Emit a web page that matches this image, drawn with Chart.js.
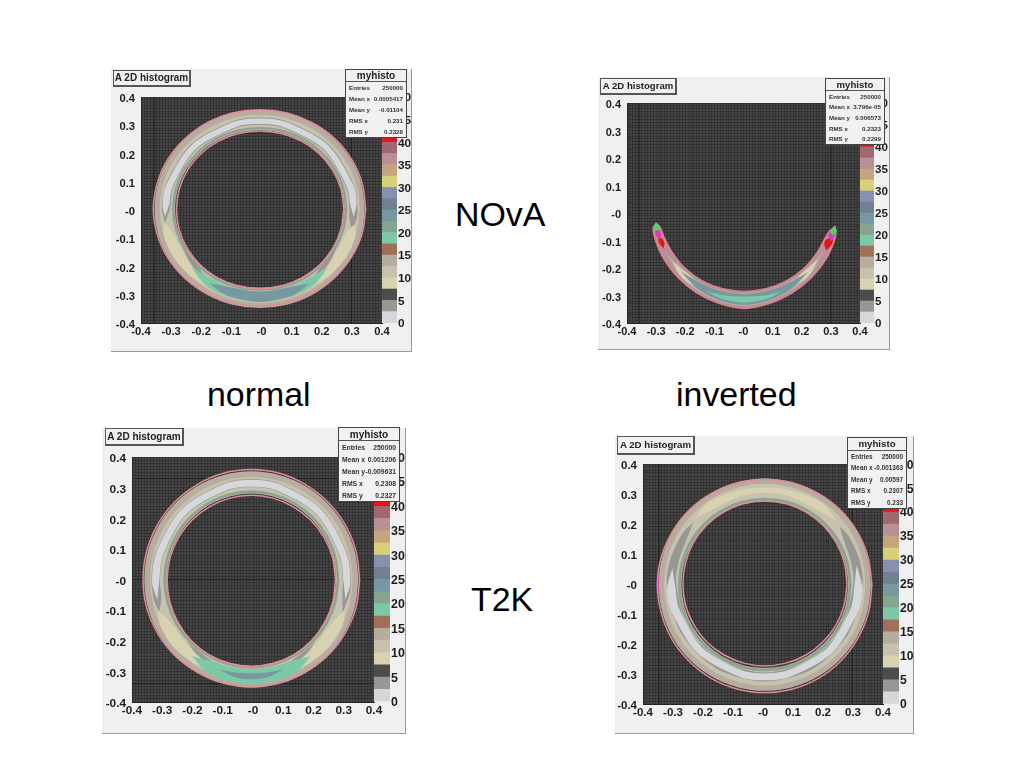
<!DOCTYPE html>
<html>
<head>
<meta charset="utf-8">
<title>A 2D histogram</title>
<script src="https://cdn.jsdelivr.net/npm/chart.js@4/dist/chart.umd.min.js"></script>
<style>
body { margin: 0; background: #fff; font-family: "Liberation Sans", Arial, sans-serif; width: 1024px; height: 768px; overflow: hidden; position: relative; }
.pad { position: absolute; background: #f0f0f0; border-right: 1px solid #9a9a9a; border-bottom: 1px solid #9a9a9a; box-sizing: border-box; }
canvas { position: absolute; filter: blur(0.5px); }
.titlebox { position: absolute; box-sizing: border-box; background: #f1f1f1; border: 1px solid #555; border-right-width: 2px; border-bottom-width: 2px; font-weight: bold; color: #222; text-align: center; white-space: nowrap; filter: blur(0.3px); z-index: 5; }
.stats { position: absolute; box-sizing: border-box; background: #f1f1f1; border: 1px solid #444; display: flex; flex-direction: column; color: #333; font-weight: bold; filter: blur(0.35px); z-index: 5; }
.stats div { flex: 1; display: flex; justify-content: space-between; align-items: center; padding: 0 3px; white-space: nowrap; }
.stats .head { justify-content: center; color: #222; border-bottom: 1px solid #555; }
.word { position: absolute; font-size: 33.9px; color: #000; white-space: nowrap; line-height: 40px; }
</style>
</head>
<body>
<script>
//TEXT
const captions = ["NOvA", "normal", "inverted", "T2K"];
const histoTitle = "A 2D histogram";
const statsName = "myhisto";
const statsLabels = ["Entries", "Mean x", "Mean y", "RMS x", "RMS y"];
const novaNormalStats = ["250000", "0.0005417", "-0.01104", "0.231", "0.2328"];
const novaInvertedStats = ["250000", "3.796e-05", "0.006573", "0.2323", "0.2299"];
const t2kNormalStats = ["250000", "0.001206", "-0.009631", "0.2308", "0.2327"];
const t2kInvertedStats = ["250000", "-0.001363", "0.00597", "0.2307", "0.233"];

//AXES
const axisLabels = ["-0.4", "-0.3", "-0.2", "-0.1", "-0", "0.1", "0.2", "0.3", "0.4"];
const paletteTicks = [0, 5, 10, 15, 20, 25, 30, 35, 40, 45, 50];

//PALETTE (lower edge of every colour band, 2.5 wide)
const paletteLevels = [0, 2.5, 5, 7.5, 10, 12.5, 15, 17.5, 20, 22.5, 25, 27.5, 30, 32.5, 35, 37.5, 40, 42.5, 45, 47.5];
const paletteColors = ["#d6d7da", "#979894", "#4c4c4c", "#d8d2b0", "#c6c2ae", "#b6ada0", "#a0705a", "#7cc9a8", "#86a58f", "#7898a0", "#6f8193", "#8890b0", "#d8d078", "#c8a47c", "#b89098", "#a0686f", "#e8141c", "#d83cc0", "#d83cc0", "#3ce060"];
const edgeColor = "#e48a97";

//RING OUTLINES: radius every 15 degrees from the ring centre
const ringAngles = [0, 15, 30, 45, 60, 75, 90, 105, 120, 135, 150, 165, 180, 195, 210, 225, 240, 255, 270, 285, 300, 315, 330, 345, 360];

const novaNormalCentre = [-0.006, 0.004];
const novaNormalOuter = [0.352, 0.352, 0.352, 0.352, 0.351, 0.351, 0.351, 0.351, 0.351, 0.351, 0.352, 0.352, 0.353, 0.352, 0.351, 0.349, 0.347, 0.345, 0.344, 0.344, 0.345, 0.347, 0.349, 0.351, 0.352];
const novaNormalInner = [0.279, 0.279, 0.278, 0.278, 0.277, 0.276, 0.276, 0.276, 0.276, 0.276, 0.276, 0.276, 0.276, 0.277, 0.278, 0.280, 0.282, 0.283, 0.284, 0.283, 0.282, 0.281, 0.280, 0.279, 0.279];
const t2kNormalCentre = [-0.0055, 0];
const t2kNormalOuter = [0.358, 0.358, 0.358, 0.358, 0.358, 0.359, 0.359, 0.359, 0.358, 0.358, 0.358, 0.358, 0.358, 0.358, 0.356, 0.354, 0.351, 0.349, 0.347, 0.349, 0.351, 0.354, 0.356, 0.358, 0.358];
const t2kNormalInner = [0.278, 0.278, 0.277, 0.276, 0.275, 0.275, 0.275, 0.275, 0.275, 0.276, 0.277, 0.278, 0.278, 0.279, 0.280, 0.282, 0.284, 0.285, 0.286, 0.285, 0.284, 0.282, 0.280, 0.279, 0.278];
const t2kInvertedCentre = [0.006, -0.002];
const t2kInvertedOuter = [0.357, 0.356, 0.355, 0.354, 0.352, 0.351, 0.351, 0.351, 0.352, 0.354, 0.355, 0.357, 0.358, 0.358, 0.359, 0.359, 0.360, 0.360, 0.360, 0.360, 0.360, 0.359, 0.358, 0.358, 0.357];
const t2kInvertedInner = [0.274, 0.275, 0.276, 0.277, 0.278, 0.279, 0.279, 0.279, 0.278, 0.277, 0.276, 0.274, 0.273, 0.273, 0.272, 0.272, 0.271, 0.271, 0.271, 0.271, 0.272, 0.272, 0.273, 0.273, 0.274];

//CONSTANT BANDS: [radius, thickness, level]
const novaNormalBands = [[0.315, 0.068, 13], [0.312, 0.040, 11], [0.287, 0.006, 21]];
const t2kNormalBands = [[0.317, 0.074, 13], [0.313, 0.044, 11], [0.287, 0.007, 21]];
const t2kInvertedBands = [[0.316, 0.076, 13], [0.313, 0.046, 11], [0.285, 0.008, 21]];

//CONTOUR REGIONS: angles, upper radius, lower radius, level
const novaNormalRegions = [
	{ level: 4, angles: [-14, -6, 0, 15, 45, 75, 90, 105, 135, 165, 180, 189],
		hi: [0.315, 0.324, 0.325, 0.324, 0.323, 0.323, 0.323, 0.323, 0.323, 0.324, 0.325, 0.318],
		lo: [0.315, 0.299, 0.298, 0.297, 0.297, 0.297, 0.297, 0.297, 0.297, 0.297, 0.298, 0.318] },
	{ level: 1, angles: [-5, 3, 15, 45, 75, 90, 105, 135, 165, 177, 185],
		hi: [0.313, 0.322, 0.322, 0.320, 0.320, 0.320, 0.320, 0.320, 0.322, 0.323, 0.316],
		lo: [0.313, 0.301, 0.300, 0.300, 0.300, 0.300, 0.300, 0.300, 0.300, 0.301, 0.316] },
	{ level: 7.6, angles: [188, 197, 210, 225, 238],
		hi: [0.322, 0.332, 0.334, 0.331, 0.325],
		lo: [0.322, 0.300, 0.296, 0.298, 0.325] },
	{ level: 7.6, angles: [302, 315, 330, 343, 350],
		hi: [0.325, 0.331, 0.334, 0.332, 0.318],
		lo: [0.325, 0.298, 0.296, 0.300, 0.318] },
	{ level: 4, angles: [208, 216, 224, 232],
		hi: [0.288, 0.297, 0.302, 0.298],
		lo: [0.288, 0.286, 0.288, 0.298] },
	{ level: 4, angles: [308, 316, 324, 332],
		hi: [0.298, 0.302, 0.297, 0.288],
		lo: [0.298, 0.288, 0.286, 0.288] },
	{ level: 18, angles: [222, 235, 250, 270, 290, 305, 318],
		hi: [0.306, 0.322, 0.328, 0.330, 0.328, 0.322, 0.306],
		lo: [0.306, 0.296, 0.293, 0.292, 0.293, 0.296, 0.306] },
	{ level: 23, angles: [238, 250, 270, 290, 302],
		hi: [0.312, 0.325, 0.329, 0.325, 0.312],
		lo: [0.312, 0.295, 0.293, 0.295, 0.312] }
];
const t2kNormalRegions = [
	{ level: 4, angles: [-20, -8, 0, 15, 45, 75, 90, 105, 135, 165, 180, 192, 199],
		hi: [0.321, 0.328, 0.329, 0.328, 0.327, 0.327, 0.327, 0.327, 0.327, 0.328, 0.330, 0.329, 0.322],
		lo: [0.321, 0.304, 0.302, 0.301, 0.301, 0.301, 0.301, 0.301, 0.301, 0.301, 0.302, 0.304, 0.322] },
	{ level: 1, angles: [-12, -2, 15, 45, 75, 90, 105, 135, 165, 182, 192],
		hi: [0.318, 0.327, 0.326, 0.325, 0.325, 0.325, 0.325, 0.325, 0.326, 0.328, 0.318],
		lo: [0.318, 0.305, 0.303, 0.303, 0.303, 0.303, 0.303, 0.303, 0.303, 0.305, 0.318] },
	{ level: 7.6, angles: [198, 207, 220, 235, 245],
		hi: [0.325, 0.337, 0.339, 0.334, 0.325],
		lo: [0.325, 0.302, 0.298, 0.302, 0.325] },
	{ level: 7.6, angles: [295, 305, 320, 333, 342],
		hi: [0.325, 0.334, 0.339, 0.337, 0.325],
		lo: [0.325, 0.302, 0.298, 0.302, 0.325] },
	{ level: 4, angles: [224, 232, 240, 248],
		hi: [0.294, 0.303, 0.307, 0.302],
		lo: [0.294, 0.292, 0.294, 0.302] },
	{ level: 4, angles: [292, 300, 308, 316],
		hi: [0.302, 0.307, 0.303, 0.294],
		lo: [0.302, 0.294, 0.292, 0.294] },
	{ level: 18, angles: [232, 243, 255, 270, 285, 297, 308],
		hi: [0.318, 0.335, 0.341, 0.343, 0.341, 0.335, 0.318],
		lo: [0.318, 0.298, 0.294, 0.293, 0.294, 0.298, 0.318] },
	{ level: 23, angles: [250, 260, 270, 280, 290],
		hi: [0.313, 0.323, 0.326, 0.323, 0.313],
		lo: [0.313, 0.308, 0.306, 0.308, 0.313] }
];
const t2kInvertedRegions = [
	{ level: 4, angles: [139, 148, 165, 180, 210, 240, 270, 300, 330, 360, 375, 390, 398],
		hi: [0.316, 0.323, 0.326, 0.326, 0.323, 0.323, 0.323, 0.323, 0.323, 0.326, 0.326, 0.323, 0.316],
		lo: [0.316, 0.303, 0.297, 0.295, 0.294, 0.293, 0.293, 0.293, 0.294, 0.295, 0.297, 0.303, 0.316] },
	{ level: 1, angles: [170, 182, 195, 225, 255, 270, 285, 315, 345, 358, 372],
		hi: [0.313, 0.325, 0.324, 0.320, 0.319, 0.319, 0.319, 0.320, 0.324, 0.325, 0.313],
		lo: [0.313, 0.298, 0.297, 0.296, 0.296, 0.296, 0.296, 0.296, 0.297, 0.298, 0.313] },
	{ level: 7.6, angles: [42, 55, 75, 90, 105, 125, 136],
		hi: [0.320, 0.333, 0.326, 0.324, 0.326, 0.333, 0.320],
		lo: [0.320, 0.305, 0.306, 0.306, 0.306, 0.305, 0.320] },
	{ level: 44, angles: [175, 180, 185],
		hi: [0.360, 0.360, 0.360],
		lo: [0.353, 0.353, 0.353] }
];

//NOVA INVERTED IS A CRESCENT
const crescentCentre = [0.003, 0];
const crescentAngles = [187, 190, 198, 210, 225, 240, 255, 270, 285, 300, 315, 330, 342, 347, 351];
const crescentOuter = [0.305, 0.318, 0.321, 0.323, 0.327, 0.333, 0.340, 0.347, 0.340, 0.333, 0.329, 0.327, 0.325, 0.323, 0.315];
const crescentInner = [0.305, 0.294, 0.289, 0.286, 0.286, 0.286, 0.285, 0.285, 0.285, 0.286, 0.287, 0.288, 0.292, 0.299, 0.315];
const novaInvertedRegions = [
	{ level: 37, angles: crescentAngles, hi: crescentOuter, lo: crescentInner },
	{ level: 36, angles: [200, 210, 225, 240, 255, 270, 285, 300, 315, 330, 338],
		hi: [0.309, 0.316, 0.321, 0.327, 0.334, 0.341, 0.334, 0.327, 0.323, 0.319, 0.312],
		lo: [0.309, 0.291, 0.291, 0.291, 0.290, 0.290, 0.290, 0.291, 0.292, 0.293, 0.312] },
	{ level: 14, angles: [210, 225, 240, 255, 270, 285, 300, 315, 332],
		hi: [0.305, 0.318, 0.325, 0.332, 0.338, 0.332, 0.325, 0.320, 0.305],
		lo: [0.305, 0.293, 0.293, 0.292, 0.292, 0.292, 0.293, 0.295, 0.305] },
	{ level: 9, angles: [216, 224, 232, 238],
		hi: [0.303, 0.314, 0.319, 0.312],
		lo: [0.303, 0.296, 0.295, 0.312] },
	{ level: 9, angles: [303, 310, 318, 326],
		hi: [0.312, 0.318, 0.314, 0.303],
		lo: [0.312, 0.296, 0.296, 0.303] },
	{ level: 24, angles: [224, 240, 255, 270, 285, 300, 316],
		hi: [0.305, 0.319, 0.328, 0.334, 0.328, 0.319, 0.307],
		lo: [0.305, 0.296, 0.295, 0.295, 0.295, 0.296, 0.307] },
	{ level: 18, angles: [245, 257, 270, 283, 295],
		hi: [0.313, 0.322, 0.326, 0.322, 0.313],
		lo: [0.313, 0.308, 0.304, 0.308, 0.313] },
	{ level: 41, angles: [196, 199, 202, 205],
		hi: [0.308, 0.312, 0.311, 0.306],
		lo: [0.308, 0.296, 0.296, 0.306] },
	{ level: 44, angles: [190, 193, 196, 198],
		hi: [0.305, 0.314, 0.313, 0.307],
		lo: [0.305, 0.297, 0.297, 0.307] },
	{ level: 48, angles: [187, 189, 191, 192],
		hi: [0.305, 0.316, 0.317, 0.306],
		lo: [0.305, 0.297, 0.295, 0.306] },
	{ level: 41, angles: [334, 338, 341, 344],
		hi: [0.312, 0.320, 0.321, 0.316],
		lo: [0.312, 0.296, 0.297, 0.316] },
	{ level: 44, angles: [341, 344, 347, 349],
		hi: [0.314, 0.321, 0.321, 0.315],
		lo: [0.314, 0.300, 0.302, 0.315] },
	{ level: 48, angles: [345, 347, 349, 351],
		hi: [0.316, 0.323, 0.323, 0.315],
		lo: [0.316, 0.303, 0.307, 0.315] }
];

//DARK BIN LINES
const novaNormalLinesX = [-0.357, 0.298];
const novaInvertedLinesX = [-0.359, 0.3];
const t2kNormalLinesY = [0.33, 0, -0.34];
const t2kInvertedLinesX = [-0.347, 0.297];

//PAGE LAYOUT
const captionBoxes = [[455, 194], [207, 374], [676, 374], [471, 579]];
const layouts = [
	{ pad: [111, 69, 301, 283], plot: [141, 97, 382, 323], palette: 397, stats: [345, 69, 62, 69], title: [113, 70, 78, 17], tick: 11.2, statFont: 6.2, titleFont: 10 },
	{ pad: [598, 77, 292, 273], plot: [627, 103, 860, 323], palette: 874, stats: [825, 78, 60, 67], title: [600, 78, 77, 17], tick: 11, statFont: 6.2, titleFont: 9.6 },
	{ pad: [102, 428, 304, 306], plot: [132, 457, 374, 702], palette: 390, stats: [338, 427, 62, 75], title: [105, 428, 79, 18], tick: 11.8, statFont: 6.8, titleFont: 10 },
	{ pad: [615, 436, 299, 298], plot: [643, 464, 883, 704], palette: 899, stats: [847, 437, 60, 72], title: [617, 436, 78, 19], tick: 11.5, statFont: 6.4, titleFont: 9.7 }
];

function levelColor(level) {
	let i = Math.floor(level / 2.5);
	return paletteColors[Math.min(i, paletteColors.length - 1)];
}
function polar(centre, angle, r) {
	let a = angle * Math.PI / 180;
	return { x: centre[0] + r * Math.cos(a), y: centre[1] + r * Math.sin(a) };
}
function outline(centre, angles, radii) {
	return angles.map((a, i) => polar(centre, a, radii[i]));
}
//Closed shape between two radius lists
function regionDataset(centre, region) {
	let top = outline(centre, region.angles, region.hi);
	let bottom = outline(centre, region.angles, region.lo).reverse();
	let points = top.concat(bottom);
	points.push(top[0]);
	return { data: points, showLine: true, fill: "shape", tension: 0.3, borderWidth: 0, pointRadius: 0, backgroundColor: levelColor(region.level), borderColor: "transparent" };
}
function strokeDataset(points, color, width, tension) {
	return { data: points, showLine: true, fill: false, tension: tension, borderWidth: width, borderColor: color, borderCapStyle: "round", pointRadius: 0 };
}

const plotBackground = {
	id: "plotBackground",
	beforeDraw(chart) {
		let a = chart.chartArea;
		chart.ctx.fillStyle = "#444444";
		chart.ctx.fillRect(a.left, a.top, a.width, a.height);
	}
};

function makeCanvas(x, y, w, h) {
	let c = document.createElement("canvas");
	c.width = w;
	c.height = h;
	c.style.left = x + "px";
	c.style.top = y + "px";
	c.style.width = w + "px";
	c.style.height = h + "px";
	document.body.appendChild(c);
	return c;
}

function histoAxis(size, font, padding, position, labelOffset) {
	return {
		type: "linear", position: position, min: -0.4, max: 0.4,
		afterFit(scale) {
			if (position === "left") scale.width = size; else scale.height = size;
		},
		border: { color: "#222" },
		grid: { color: "rgba(0,0,0,0.2)", lineWidth: 1, drawTicks: false },
		ticks: {
			stepSize: 0.01, autoSkip: false, maxRotation: 0, padding: padding, labelOffset: labelOffset, color: "#1c1c1c",
			font: { family: "Liberation Sans", weight: "bold", size: font },
			callback: (v) => {
				let n = Math.round(v * 100);
				return n % 10 === 0 ? axisLabels[n / 10 + 4] : "";
			}
		}
	};
}

function drawHisto(layout, datasets) {
	let [px, py, pw, ph] = layout.pad;
	let [l, t, r, b] = layout.plot;
	let pad = document.createElement("div");
	pad.className = "pad";
	pad.style.cssText = `left:${px}px;top:${py}px;width:${pw}px;height:${ph}px`;
	document.body.appendChild(pad);
	datasets.forEach((d, i) => { d.order = -i; });
	new Chart(makeCanvas(px, py, pw, ph), {
		type: "scatter",
		data: { datasets: datasets },
		options: {
			responsive: false, animation: false,
			layout: { padding: { top: t - py, right: px + pw - r, left: 0, bottom: 0 } },
			plugins: { legend: { display: false }, tooltip: { enabled: false } },
			scales: {
				x: histoAxis(py + ph - b, layout.tick, 2, "bottom", 0),
				y: histoAxis(l - px, layout.tick, 6, "left", 2)
			}
		},
		plugins: [plotBackground]
	});
}

function drawPalette(layout) {
	let [l, t, r, b] = layout.plot;
	let width = layout.palette - r + 20;
	let sets = paletteLevels.map((lo, i) => ({
		data: [[lo, lo + 2.5]], backgroundColor: paletteColors[i], borderWidth: 0, barPercentage: 1, categoryPercentage: 1
	}));
	new Chart(makeCanvas(r, t - 8, width, b - t + 16), {
		type: "bar",
		data: { labels: ["z"], datasets: sets },
		options: {
			responsive: false, animation: false,
			layout: { padding: { top: 8, bottom: 8, left: 0, right: 0 } },
			plugins: { legend: { display: false }, tooltip: { enabled: false } },
			scales: {
				x: { display: false, stacked: true },
				y: {
					position: "right", min: 0, max: 50,
					afterFit(scale) { scale.width = 20; },
					afterBuildTicks(scale) { scale.ticks = paletteTicks.map((v) => ({ value: v })); },
					grid: { display: false, drawTicks: false }, border: { display: false },
					ticks: { padding: 1, labelOffset: 1, color: "#1c1c1c", autoSkip: false, font: { family: "Liberation Sans", weight: "bold", size: layout.tick + 0.6 } }
				}
			}
		}
	});
}

function addBoxes(layout, stats) {
	let tb = document.createElement("div");
	let [tx, ty, tw, th] = layout.title;
	tb.className = "titlebox";
	tb.style.cssText = `left:${tx}px;top:${ty}px;width:${tw}px;height:${th}px;line-height:${th - 3}px;font-size:${layout.titleFont}px`;
	tb.textContent = histoTitle;
	document.body.appendChild(tb);
	let sb = document.createElement("div");
	let [sx, sy, sw, sh] = layout.stats;
	sb.className = "stats";
	sb.style.cssText = `left:${sx}px;top:${sy}px;width:${sw}px;height:${sh}px;font-size:${layout.statFont}px`;
	let rows = `<div class="head" style="font-size:${layout.titleFont}px">${statsName}</div>`;
	statsLabels.forEach((label, i) => { rows += `<div><span>${label}</span><span>${stats[i]}</span></div>`; });
	sb.innerHTML = rows;
	document.body.appendChild(sb);
}

function binLines(xs, ys) {
	let out = [];
	xs.forEach((x) => out.push(strokeDataset([{ x: x, y: -0.4 }, { x: x, y: 0.4 }], "#202020", 1, 0)));
	ys.forEach((y) => out.push(strokeDataset([{ x: -0.4, y: y }, { x: 0.4, y: y }], "#202020", 1, 0)));
	return out;
}

function ringDatasets(layout, centre, outer, inner, bands, regions, linesX, linesY) {
	let unit = (layout.plot[2] - layout.plot[0]) / 0.8;
	let sets = binLines(linesX, linesY);
	bands.forEach(([r, w, level]) => {
		let radii = ringAngles.map(() => r);
		sets.push(strokeDataset(outline(centre, ringAngles, radii), levelColor(level), w * unit, 0.4));
	});
	regions.forEach((region) => sets.push(regionDataset(centre, region)));
	sets.push(strokeDataset(outline(centre, ringAngles, outer), edgeColor, 1.5, 0.4));
	sets.push(strokeDataset(outline(centre, ringAngles, inner), edgeColor, 1.5, 0.4));
	return sets;
}

function crescentDatasets() {
	let sets = binLines(novaInvertedLinesX, []);
	novaInvertedRegions.forEach((region) => sets.push(regionDataset(crescentCentre, region)));
	sets.splice(sets.length - 6, 0, strokeDataset(outline(crescentCentre, crescentAngles, crescentOuter), "#df7f8c", 1.4, 0.3));
	sets.splice(sets.length - 6, 0, strokeDataset(outline(crescentCentre, crescentAngles, crescentInner), "#df7f8c", 1.4, 0.3));
	return sets;
}

const panelSets = [
	ringDatasets(layouts[0], novaNormalCentre, novaNormalOuter, novaNormalInner, novaNormalBands, novaNormalRegions, novaNormalLinesX, []),
	crescentDatasets(),
	ringDatasets(layouts[2], t2kNormalCentre, t2kNormalOuter, t2kNormalInner, t2kNormalBands, t2kNormalRegions, [], t2kNormalLinesY),
	ringDatasets(layouts[3], t2kInvertedCentre, t2kInvertedOuter, t2kInvertedInner, t2kInvertedBands, t2kInvertedRegions, t2kInvertedLinesX, [])
];
const panelStats = [novaNormalStats, novaInvertedStats, t2kNormalStats, t2kInvertedStats];

layouts.forEach((layout, i) => {
	drawHisto(layout, panelSets[i]);
	drawPalette(layout);
	addBoxes(layout, panelStats[i]);
});

captions.forEach((word, i) => {
	let d = document.createElement("div");
	d.className = "word";
	d.style.left = captionBoxes[i][0] + "px";
	d.style.top = captionBoxes[i][1] + "px";
	d.textContent = word;
	document.body.appendChild(d);
});
</script>
</body>
</html>
